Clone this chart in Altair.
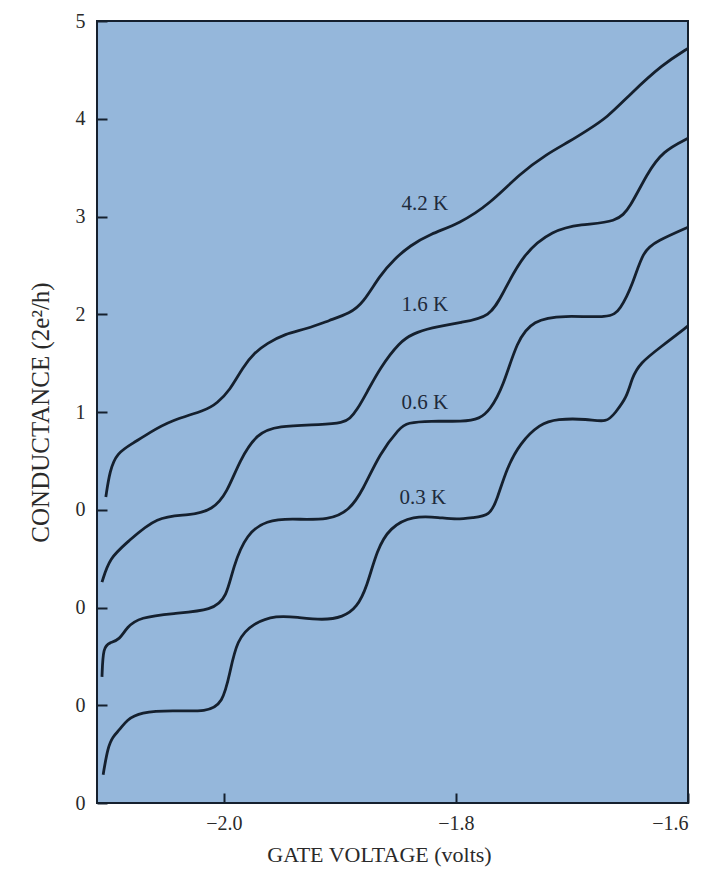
import altair as alt
import pandas as pd

# ---- data (gate voltage in volts, conductance in units of 2e^2/h) ----
CURVES = ["4.2 K", "1.6 K", "0.6 K", "0.3 K"]
OFFSETS = [0, 1, 2, 3]   # each curve shifted down by one unit

V_42 = [-2.1017, -2.0983, -2.0922, -2.0784, -2.0638, -2.0466, -2.0147, -2.0060, -1.9948,
        -1.9836, -1.9733, -1.9629, -1.9474, -1.9284, -1.9086, -1.8914, -1.8802, -1.8655,
        -1.8526, -1.8397, -1.8224, -1.7966, -1.7707, -1.7448, -1.7216, -1.7017, -1.6871,
        -1.6698, -1.6500, -1.6216, -1.6000]
G_42 = [0.13, 0.40, 0.58, 0.68, 0.79, 0.91, 1.02, 1.09, 1.22,
        1.46, 1.61, 1.70, 1.80, 1.85, 1.94, 2.01, 2.11, 2.40,
        2.57, 2.70, 2.82, 2.93, 3.13, 3.44, 3.64, 3.77, 3.88,
        4.01, 4.25, 4.56, 4.72]

V_16 = [-2.1050, -2.0983, -2.0836, -2.0578, -2.0293, -2.0095, -1.9974, -1.9862, -1.9716,
        -1.9543, -1.9147, -1.8974, -1.8914, -1.8853, -1.8767, -1.8655, -1.8483, -1.8371,
        -1.8224, -1.7940, -1.7707, -1.7595, -1.7422, -1.7164, -1.6931, -1.6612, -1.6500,
        -1.6353, -1.6216, -1.6000]
G_16 = [0.26, 0.51, 0.66, 0.94, 0.94, 1.00, 1.17, 1.51, 1.78,
        1.86, 1.87, 1.89, 1.93, 2.02, 2.20, 2.45, 2.72, 2.80,
        2.86, 2.92, 2.97, 3.21, 3.62, 3.86, 3.92, 3.94, 4.09,
        4.44, 4.67, 4.80]

V_06 = [-2.1050, -2.1040, -2.0983, -2.0897, -2.0836, -2.0724, -2.0440, -2.0095, -1.9974,
        -1.9922, -1.9802, -1.9629, -1.9431, -1.9086, -1.8914, -1.8802, -1.8655, -1.8483,
        -1.8422, -1.8224, -1.7940, -1.7793, -1.7707, -1.7595, -1.7474, -1.7336, -1.7078,
        -1.6672, -1.6586, -1.6474, -1.6388, -1.6267, -1.6000]
G_06 = [0.29, 0.60, 0.64, 0.67, 0.80, 0.90, 0.94, 0.97, 1.11,
        1.41, 1.76, 1.89, 1.91, 1.89, 2.00, 2.20, 2.58, 2.84,
        2.89, 2.91, 2.90, 2.93, 3.02, 3.25, 3.73, 3.94, 3.99,
        3.96, 4.04, 4.31, 4.65, 4.75, 4.89]

V_03 = [-2.1040, -2.1000, -2.0957, -2.0897, -2.0836, -2.0724, -2.0440, -2.0147, -2.0009,
        -1.9948, -1.9888, -1.9750, -1.9543, -1.9371, -1.9147, -1.8974, -1.8853, -1.8767,
        -1.8681, -1.8569, -1.8371, -1.8138, -1.7991, -1.7853, -1.7707, -1.7647, -1.7560,
        -1.7448, -1.7276, -1.7129, -1.6871, -1.6698, -1.6629, -1.6526, -1.6483, -1.6414,
        -1.6241, -1.6000]
G_03 = [0.29, 0.57, 0.68, 0.75, 0.85, 0.93, 0.95, 0.93, 1.02,
        1.33, 1.67, 1.84, 1.92, 1.90, 1.87, 1.90, 2.00, 2.21,
        2.59, 2.82, 2.94, 2.92, 2.90, 2.92, 2.94, 3.10, 3.43,
        3.68, 3.88, 3.93, 3.93, 3.89, 3.99, 4.15, 4.35, 4.50,
        4.66, 4.88]

# curve label positions (data units of the offset plot)
LABEL_V = [-1.8267, -1.8267, -1.8267, -1.8285]
LABEL_G = [3.13, 2.09, 1.09, 0.12]

Y_TICKS = [-3, -2, -1, 0, 1, 2, 3, 4, 5]
X_TICKS = [-2.0, -1.8, -1.6]

rows = []
for name, off, vs, gs in zip(CURVES, OFFSETS, [V_42, V_16, V_06, V_03], [G_42, G_16, G_06, G_03]):
    for v, g in zip(vs, gs):
        rows.append({"curve": name, "v": v, "g": g - off})
df = pd.DataFrame(rows)
labels = pd.DataFrame({"curve": CURVES, "v": LABEL_V, "g": LABEL_G})

FONT = "Liberation Serif"
INK = "#15202e"
TEXT = "#2a2a2a"

xscale = alt.Scale(domain=[-2.1093, -1.6], nice=False, zero=False)
yscale = alt.Scale(domain=[-3, 5], nice=False, zero=False)

xaxis = alt.Axis(values=X_TICKS, format=".1f", title="GATE VOLTAGE (volts)",
                 offset=-10, tickSize=10, tickWidth=2, tickColor=INK, domain=False, grid=False,
                 labelPadding=10, labelFont=FONT, labelFontSize=20, labelColor=TEXT,
                 titleFont=FONT, titleFontSize=22, titleFontWeight="normal", titleColor=TEXT,
                 titlePadding=11, titleX=282, titleAlign="center")
yaxis = alt.Axis(values=Y_TICKS, format="d", labelExpr="datum.value > 0 ? datum.label : '0'",
                 title="CONDUCTANCE (2e²/h)",
                 offset=-10, tickSize=10, tickWidth=2, tickColor=INK, domain=False, grid=False,
                 labelPadding=12, labelFont=FONT, labelFontSize=20, labelColor=TEXT,
                 titleFont=FONT, titleFontSize=25, titleFontWeight="normal", titleColor=TEXT,
                 titlePadding=22)

lines = alt.Chart(df).mark_line(color=INK, strokeWidth=2.8, interpolate="basis").encode(
    x=alt.X("v:Q", scale=xscale, axis=xaxis),
    y=alt.Y("g:Q", scale=yscale, axis=yaxis),
    detail="curve:N",
    order="v:Q",
)

texts = alt.Chart(labels).mark_text(font=FONT, fontSize=21, color="#1e2a3a").encode(
    x=alt.X("v:Q", scale=xscale),
    y=alt.Y("g:Q", scale=yscale),
    text="curve:N",
)

chart = alt.layer(lines, texts).properties(
    width=591, height=782,
    autosize="none",
    padding={"left": 89, "top": 13, "right": 18, "bottom": 68},
    background="white",
).configure_view(fill="#95b7db", stroke=INK, strokeWidth=2)

chart.save("out.html", embed_options={"renderer": "svg", "actions": False})
